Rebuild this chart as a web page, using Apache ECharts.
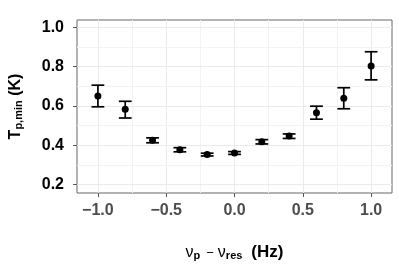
<!DOCTYPE html>
<html>
<head>
<meta charset="utf-8">
<script src="https://cdn.jsdelivr.net/npm/echarts@6/dist/echarts.min.js"></script>
<style>html,body{margin:0;padding:0;background:#fff;}#c{width:399px;height:266px;}</style>
</head>
<body>
<div id="c"></div>
<script>
// Data
const detuning = [-1.0, -0.8, -0.6, -0.4, -0.2, 0.0, 0.2, 0.4, 0.6, 0.8, 1.0];
const tMin     = [0.650, 0.582, 0.425, 0.376, 0.352, 0.360, 0.417, 0.446, 0.565, 0.638, 0.803];
const errLow   = [0.595, 0.538, 0.412, 0.366, 0.345, 0.353, 0.406, 0.434, 0.532, 0.585, 0.732];
const errHigh  = [0.705, 0.623, 0.437, 0.387, 0.359, 0.367, 0.428, 0.457, 0.598, 0.692, 0.875];
const xTicks = [-1.0, -0.5, 0.0, 0.5, 1.0];
const xMinor = [-0.75, -0.25, 0.25, 0.75];
const yTicks = [0.2, 0.4, 0.6, 0.8, 1.0];
const yMinor = [0.3, 0.5, 0.7, 0.9];

const chart = echarts.init(document.getElementById('c'), null, {renderer: 'canvas'});
const FONT = 'Liberation Sans';
const gridLines = [];
xTicks.forEach(v => gridLines.push({xAxis: v, lineStyle: {color: '#ebebeb', width: 1, type: 'solid'}}));
xMinor.forEach(v => gridLines.push({xAxis: v, lineStyle: {color: '#f3f3f3', width: 1, type: 'solid'}}));
yTicks.forEach(v => gridLines.push({yAxis: v, lineStyle: {color: '#ebebeb', width: 1, type: 'solid'}}));
yMinor.forEach(v => gridLines.push({yAxis: v, lineStyle: {color: '#f3f3f3', width: 1, type: 'solid'}}));

chart.setOption({
  animation: false,
  backgroundColor: '#fff',
  grid: {left: 75, right: 7, top: 20, bottom: 70, show: true, borderColor: '#666', borderWidth: 1, backgroundColor: '#fff'},
  xAxis: {
    type: 'value', min: -1.153, max: 1.153,
    axisLine: {show: false, onZero: false},
    axisTick: {show: true, length: 4, lineStyle: {color: '#555'}, customValues: xTicks},
    axisLabel: {customValues: xTicks, color: '#4d4d4d', fontFamily: FONT, fontWeight: 'bold', fontSize: 16, margin: 10,
      formatter: v => (v < 0 ? '\u2212' : '') + Math.abs(v).toFixed(1)},
    splitLine: {show: false},
    name: '{nu|\u03bd}{sub|p}{op|\u2212}{nu|\u03bd}{sub|res}{hz|(Hz)}',
    nameLocation: 'middle', nameGap: 51,
    nameTextStyle: {
      rich: {
        nu: {fontFamily: FONT, fontSize: 16, color: '#000', verticalAlign: 'bottom'},
        op: {fontFamily: FONT, fontSize: 13, color: '#000', verticalAlign: 'bottom', padding: [0, 4, 1, 6]},
        sub: {fontFamily: FONT, fontSize: 11, fontWeight: 'bold', color: '#000', padding: [6, 0, 0, 0], verticalAlign: 'bottom'},
        hz: {fontFamily: FONT, fontSize: 17, fontWeight: 'bold', color: '#000', verticalAlign: 'bottom', padding: [0, 0, 0, 9]}
      }
    }
  },
  yAxis: {
    type: 'value', min: 0.1565, max: 1.0365,
    axisLine: {show: false, onZero: false},
    axisTick: {show: true, length: 4, lineStyle: {color: '#555'}, customValues: yTicks},
    axisLabel: {customValues: yTicks, color: '#000', fontFamily: FONT, fontWeight: 'bold', fontSize: 16, margin: 13,
      formatter: v => v.toFixed(1)},
    splitLine: {show: false},
    name: '{t|T}{sub|p,min}{t| (K)}',
    nameLocation: 'middle', nameGap: 53, nameRotate: 90,
    nameTextStyle: {
      rich: {
        t: {fontFamily: FONT, fontSize: 16, fontWeight: 'bold', color: '#000', verticalAlign: 'bottom'},
        sub: {fontFamily: FONT, fontSize: 11, fontWeight: 'bold', color: '#000', padding: [6, 0, 0, 0], verticalAlign: 'bottom'}
      }
    }
  },
  series: [
    {
      type: 'line', data: [], silent: true, z: 0,
      markLine: {silent: true, z: 0, symbol: 'none', label: {show: false}, animation: false,
        lineStyle: {type: 'solid'}, data: gridLines}
    },
    {
      type: 'custom', z: 5,
      data: detuning.map((x, i) => [x, errLow[i], errHigh[i]]),
      renderItem: function (params, api) {
        const x = api.value(0);
        const lo = api.coord([x, api.value(1)]);
        const hi = api.coord([x, api.value(2)]);
        const hw = 6.4;
        const style = {stroke: '#000', lineWidth: 1.7};
        return {
          type: 'group',
          children: [
            {type: 'line', shape: {x1: lo[0], y1: lo[1], x2: hi[0], y2: hi[1]}, style},
            {type: 'line', shape: {x1: lo[0] - hw, y1: lo[1], x2: lo[0] + hw, y2: lo[1]}, style},
            {type: 'line', shape: {x1: hi[0] - hw, y1: hi[1], x2: hi[0] + hw, y2: hi[1]}, style}
          ]
        };
      },
      encode: {x: 0, y: [1, 2]}
    },
    {
      type: 'scatter', z: 10, symbol: 'circle', symbolSize: 7,
      itemStyle: {color: '#000', opacity: 1},
      data: detuning.map((x, i) => [x, tMin[i]])
    }
  ]
});
</script>
</body>
</html>
